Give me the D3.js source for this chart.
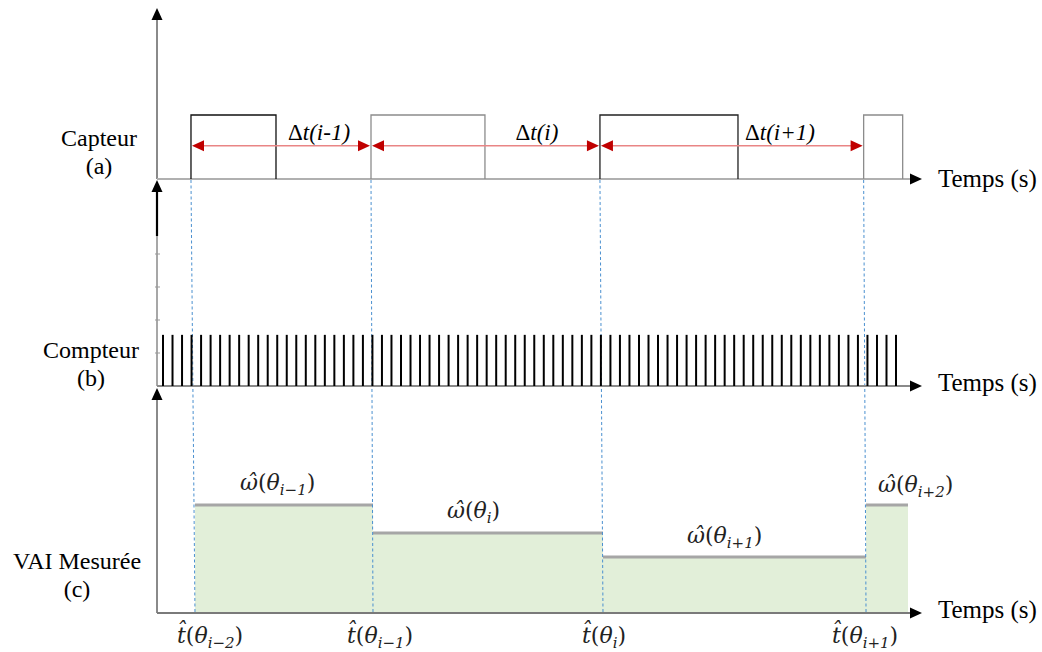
<!DOCTYPE html>
<html>
<head>
<meta charset="utf-8">
<script src="https://cdn.jsdelivr.net/npm/d3@7"></script>
<style>
  html, body { margin: 0; padding: 0; background: #fff; }
  svg { display: block; }
</style>
</head>
<body>
<svg id="chart" width="1042" height="652"></svg>
<script>
// ---------- data ----------
// time unit = one counter pulse period
const pulseTimes = [1,2,3,4,5,6,7,8,9,10,11,12,13,14,15,16,17,18,19,20,21,22,23,24,25,26,27,28,29,30,31,32,33,34,35,36,37,38,39,40,41,42,43,44,45,46,47,48,49,50,51,52,53,54,55,56,57,58,59,60,61,62,63,64,65,66,67,68,69,70,71,72,73,74,75,76,77,78];
const pulseLevel = 1.55;
const counterTicks = [1, 2, 3, 4];
const sensorRise = [3.94, 22.85, 46.9, 74.6];
const sensorFall = [12.87, 34.82, 61.4, 78.7];
const sensorLevel = 1;
const arrowLevel = 0.52;
const deltaLabels = ["Δt(i-1)", "Δt(i)", "Δt(i+1)"];
const stepEdges = [4.36, 23.06, 47.22, 74.85, 79.26];
const vaiValues = [49.5, 36.7, 25.7, 49.5];
const omegaSubs = ["i−1", "i", "i+1", "i+2"];
const tSubs = ["i−2", "i−1", "i", "i+1"];
const panelNames = [["Capteur", "(a)"], ["Compteur", "(b)"], ["VAI Mesurée", "(c)"]];
const axisTitle = "Temps (s)";

// ---------- layout ----------
const svg = d3.select("#chart");
const X0 = 157, XEND = 920;
const x = d3.scaleLinear().domain([0.37, 80.52]).range([X0, XEND]);
const yTop = d3.scaleLinear().domain([0, 1]).range([179, 115]);
const yMid = d3.scaleLinear().domain([0, 6]).range([386, 188]);
const yBot = d3.scaleLinear().domain([0, 100]).range([613, 395]);
const serif = "Liberation Serif, Times New Roman, Times, serif";
const mathFont = "DejaVu Serif, serif";

function arrowUp(xc, ytip) {
  svg.append("path").attr("d", `M${xc},${ytip} L${xc-5.5},${ytip+12} L${xc+5.5},${ytip+12} Z`).attr("fill", "#000");
}
function arrowRight(xtip, yc) {
  svg.append("path").attr("d", `M${xtip},${yc} L${xtip-12},${yc-5.5} L${xtip-12},${yc+5.5} Z`).attr("fill", "#000");
}

// ---------- panel (c) fill ----------
const steps = vaiValues.map((v, i) => ({ x0: stepEdges[i], x1: stepEdges[i + 1], v }));
const areaData = steps.map(s => [s.x0, s.v]).concat([[stepEdges[stepEdges.length - 1], vaiValues[vaiValues.length - 1]]]);
svg.append("path")
  .datum(areaData)
  .attr("d", d3.area().x(d => x(d[0])).y0(yBot(0)).y1(d => yBot(d[1])).curve(d3.curveStepAfter))
  .attr("fill", "#e2efd9");
svg.selectAll(".stepline").data(steps).join("line")
  .attr("x1", d => x(d.x0)).attr("x2", d => x(d.x1))
  .attr("y1", d => yBot(d.v)).attr("y2", d => yBot(d.v))
  .attr("stroke", "#a6a6a6").attr("stroke-width", 3);

// ---------- dashed guide lines ----------
svg.selectAll(".guide").data(sensorRise).join("line")
  .attr("x1", d => x(d)).attr("y1", yTop(0) + 1)
  .attr("x2", (d, i) => x(stepEdges[i])).attr("y2", yBot(0))
  .attr("stroke", "#4a90d0").attr("stroke-width", 1).attr("stroke-dasharray", "3,2.5");

// ---------- panel (a) ----------
svg.append("line").attr("x1", X0).attr("x2", X0).attr("y1", yTop(0)).attr("y2", 18)
  .attr("stroke", "#8a8a8a").attr("stroke-width", 2);
arrowUp(X0, 8);
svg.append("line").attr("x1", X0).attr("x2", XEND - 10).attr("y1", yTop(0)).attr("y2", yTop(0))
  .attr("stroke", "#b0b0b0").attr("stroke-width", 2);
arrowRight(XEND + 2, yTop(0));
const boxColors = ["#111", "#8c8c8c", "#222", "#8c8c8c"];
svg.selectAll(".box").data(sensorRise).join("path")
  .attr("d", (d, i) => `M${x(d)},${yTop(0)} V${yTop(sensorLevel)} H${x(sensorFall[i])} V${yTop(0)}`)
  .attr("fill", "none").attr("stroke", (d, i) => boxColors[i]).attr("stroke-width", 1.3);

// red interval arrows
const yA = yTop(arrowLevel);
deltaLabels.forEach((lab, i) => {
  const xa = x(sensorRise[i]), xb = x(sensorRise[i + 1]);
  svg.append("line").attr("x1", xa + 10).attr("x2", xb - 10).attr("y1", yA).attr("y2", yA)
    .attr("stroke", "#e98585").attr("stroke-width", 1.6);
  svg.append("path").attr("d", `M${xa + 1},${yA} L${xa + 13},${yA - 5.5} L${xa + 13},${yA + 5.5} Z`).attr("fill", "#c00000");
  svg.append("path").attr("d", `M${xb - 1},${yA} L${xb - 13},${yA - 5.5} L${xb - 13},${yA + 5.5} Z`).attr("fill", "#c00000");
});
const deltaPos = [17.39, 40.28, 65.81];
deltaLabels.forEach((lab, i) => {
  const t = svg.append("text").attr("x", x(deltaPos[i])).attr("y", 140)
    .attr("text-anchor", "middle").attr("font-family", serif).attr("font-size", 23).attr("fill", "#000");
  t.append("tspan").text(lab[0]);
  t.append("tspan").attr("font-style", "italic").text(lab.slice(1));
});

// ---------- panel (b) ----------
svg.append("line").attr("x1", X0).attr("x2", X0).attr("y1", yMid(0)).attr("y2", 236)
  .attr("stroke", "#8a8a8a").attr("stroke-width", 1.5);
svg.append("line").attr("x1", X0).attr("x2", X0).attr("y1", 236).attr("y2", 190)
  .attr("stroke", "#000").attr("stroke-width", 2.2);
arrowUp(X0, 180);
svg.selectAll(".ctick").data(counterTicks).join("line")
  .attr("x1", X0 - 2).attr("x2", X0 + 3).attr("y1", d => yMid(d)).attr("y2", d => yMid(d))
  .attr("stroke", "#999").attr("stroke-width", 1);
svg.append("line").attr("x1", X0).attr("x2", XEND - 10).attr("y1", yMid(0)).attr("y2", yMid(0))
  .attr("stroke", "#8a8a8a").attr("stroke-width", 2);
arrowRight(XEND + 2, yMid(0));
svg.selectAll(".pulse").data(pulseTimes).join("line")
  .attr("x1", d => x(d)).attr("x2", d => x(d))
  .attr("y1", yMid(0)).attr("y2", yMid(pulseLevel))
  .attr("stroke", "#000").attr("stroke-width", 2);

// ---------- panel (c) axes ----------
svg.append("line").attr("x1", X0).attr("x2", X0).attr("y1", yBot(0)).attr("y2", 398)
  .attr("stroke", "#8a8a8a").attr("stroke-width", 2);
arrowUp(X0, 388);
svg.append("line").attr("x1", X0).attr("x2", XEND - 10).attr("y1", yBot(0)).attr("y2", yBot(0))
  .attr("stroke", "#7a7a7a").attr("stroke-width", 2);
arrowRight(XEND + 2, yBot(0));

// omega labels
const omegaPos = [[240, 490], [447, 518], [687, 543], [878, 492]];
omegaSubs.forEach((s, i) => {
  const t = svg.append("text").attr("x", omegaPos[i][0]).attr("y", omegaPos[i][1])
    .attr("font-family", mathFont).attr("font-size", 22).attr("fill", "#222");
  t.append("tspan").attr("font-style", "italic").text("ω\u0302");
  t.append("tspan").text("(");
  t.append("tspan").attr("font-style", "italic").text("θ");
  t.append("tspan").attr("font-size", 15).attr("dy", 5).attr("font-style", "italic").text(s);
  t.append("tspan").attr("dy", -5).text(")");
});
// t labels
const tPos = [177, 347, 582, 832];
tSubs.forEach((s, i) => {
  const t = svg.append("text").attr("x", tPos[i]).attr("y", 643)
    .attr("font-family", mathFont).attr("font-size", 22).attr("fill", "#222");
  t.append("tspan").attr("font-style", "italic").text("t\u0302");
  t.append("tspan").text("(");
  t.append("tspan").attr("font-style", "italic").text("θ");
  t.append("tspan").attr("font-size", 15).attr("dy", 5).attr("font-style", "italic").text(s);
  t.append("tspan").attr("dy", -5).text(")");
});

// ---------- text labels ----------
const nameLayout = [[99, 146, 174], [91, 358, 386], [77, 569, 597]];
panelNames.forEach((p, i) => {
  const [cx, y1, y2] = nameLayout[i];
  svg.append("text").attr("x", cx).attr("y", y1).attr("text-anchor", "middle")
    .attr("font-family", serif).attr("font-size", 24).attr("fill", "#000").text(p[0]);
  svg.append("text").attr("x", cx).attr("y", y2).attr("text-anchor", "middle")
    .attr("font-family", serif).attr("font-size", 24).attr("fill", "#000").text(p[1]);
});
[187, 391, 618].forEach(yy => {
  svg.append("text").attr("x", 938).attr("y", yy)
    .attr("font-family", serif).attr("font-size", 25).attr("fill", "#000").text(axisTitle);
});
</script>
</body>
</html>
